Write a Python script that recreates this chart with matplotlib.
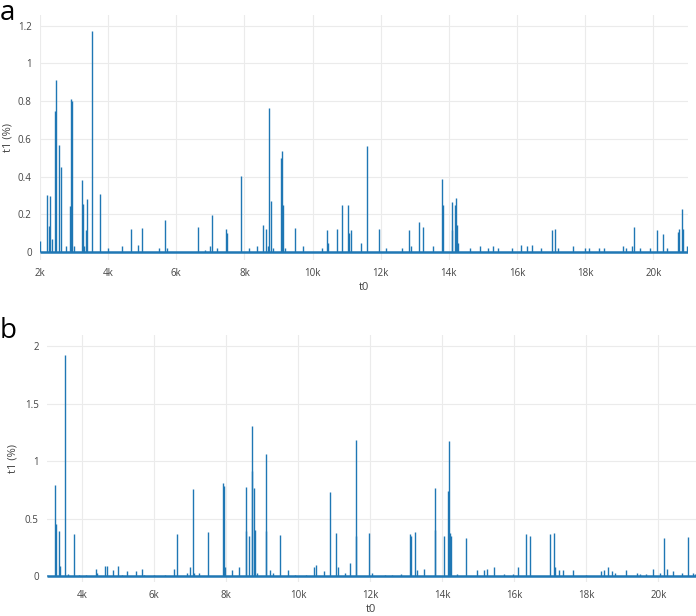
import matplotlib
matplotlib.use("Agg")
import matplotlib.pyplot as plt

# panel a spikes (t0, t1 %)
a_t0 = [2012, 2216, 2275, 2305, 2353, 2441, 2461, 2569, 2608, 2775, 2891, 2911, 2930,
        3000, 3245, 3264, 3300, 3362, 3380, 3518, 3773, 4000, 4400, 4683, 4870, 4986,
        5495, 5661, 5740, 6640, 6850, 7003, 7062, 7200, 7473, 7502, 7913, 8120, 8362,
        8539, 8647, 8680, 8715, 8783, 8850, 9076, 9096, 9125, 9200, 9478, 9730, 10264,
        10409, 10440, 10722, 10867, 11043, 11060, 11113, 11425, 11582, 11935, 12150,
        12610, 12835, 12900, 13110, 13245, 13520, 13803, 13830, 14079, 14100, 14185,
        14205, 14243, 14270, 14630, 14900, 15150, 15300, 15450, 15850, 16118, 16300,
        16450, 16700, 17024, 17112, 17200, 17650, 18000, 18100, 18400, 18550, 19100,
        19200, 19380, 19440, 19600, 19900, 20105, 20273, 20400, 20722, 20760, 20840,
        20870, 20980]
a_t1 = [0.06, 0.305, 0.138, 0.296, 0.07, 0.746, 0.91, 0.57, 0.45, 0.03, 0.245, 0.81, 0.80,
        0.03, 0.38, 0.254, 0.03, 0.116, 0.28, 1.17, 0.307, 0.02, 0.03, 0.12, 0.04, 0.129,
        0.02, 0.17, 0.02, 0.132, 0.01, 0.03, 0.196, 0.02, 0.123, 0.10, 0.405, 0.02, 0.03,
        0.141, 0.12, 0.03, 0.766, 0.272, 0.02, 0.50, 0.534, 0.252, 0.02, 0.129, 0.03, 0.02,
        0.116, 0.05, 0.123, 0.249, 0.247, 0.10, 0.116, 0.05, 0.56, 0.122, 0.02,
        0.02, 0.116, 0.03, 0.157, 0.133, 0.03, 0.388, 0.25, 0.263, 0.116, 0.252,
        0.285, 0.143, 0.05, 0.02, 0.03, 0.02, 0.03, 0.02, 0.02, 0.04, 0.03,
        0.04, 0.02, 0.116, 0.12, 0.02, 0.03, 0.02, 0.02, 0.02, 0.02, 0.03,
        0.02, 0.03, 0.133, 0.02, 0.02, 0.115, 0.096, 0.02, 0.104, 0.12, 0.231,
        0.12, 0.03]

# panel b spikes
b_t0 = [3030, 3242, 3270, 3353, 3380, 3519, 3600, 3769, 3900, 4100, 4380, 4420, 4630,
        4680, 4850, 4992, 5100, 5232, 5491, 5648, 5700, 6000, 6300, 6557, 6630, 6900,
        7000, 7066, 7100, 7250, 7483, 7908, 7935, 7960, 8150, 8361, 8537, 8556, 8622,
        8705, 8720, 8778, 8790, 8850, 9094, 9105, 9200, 9300, 9483, 9722, 9900, 10200,
        10436, 10500, 10700, 10872, 11038, 11100, 11300, 11427, 11594, 11610, 11955,
        12050, 12400, 12600, 12850, 13111, 13130, 13242, 13300, 13500, 13788, 13800,
        14056, 14170, 14185, 14200, 14240, 14400, 14650, 14950, 15150, 15250, 15444,
        15700, 15950, 16111, 16317, 16436, 16992, 17103, 17130, 17250, 17350, 17639,
        18000, 18400, 18500, 18595, 18700, 18800, 19094, 19400, 19500, 19650, 19861,
        20050, 20167, 20250, 20400, 20650, 20833, 20950, 21030]
b_t1 = [0.01, 0.793, 0.45, 0.395, 0.09, 1.92, 0.02, 0.363, 0.01, 0.01, 0.058, 0.03, 0.087,
        0.085, 0.05, 0.087, 0.01, 0.04, 0.04, 0.06, 0.01, 0.01, 0.01, 0.065, 0.366, 0.03,
        0.08, 0.758, 0.03, 0.03, 0.38, 0.807, 0.78, 0.08, 0.05, 0.08, 0.39, 0.778, 0.351,
        1.307, 0.91, 0.77, 0.40, 0.03, 1.063, 0.39, 0.05, 0.03, 0.357, 0.05, 0.01, 0.01,
        0.08, 0.10, 0.04, 0.734, 0.372, 0.08, 0.03, 0.11, 1.185, 0.35, 0.372,
        0.03, 0.01, 0.01, 0.02, 0.363, 0.35, 0.38, 0.05, 0.06, 0.764, 0.40,
        0.348, 0.74, 1.179, 0.375, 0.35, 0.02, 0.328, 0.05, 0.05, 0.06, 0.08,
        0.02, 0.02, 0.08, 0.366, 0.345, 0.366, 0.377, 0.08, 0.05, 0.05, 0.05,
        0.01, 0.04, 0.05, 0.08, 0.04, 0.03, 0.05, 0.03, 0.02, 0.02, 0.06,
        0.03, 0.328, 0.06, 0.04, 0.03, 0.337, 0.03, 0.02]

a_yticks = [0, 0.2, 0.4, 0.6, 0.8, 1, 1.2]
a_ylabels = ["0", "0.2", "0.4", "0.6", "0.8", "1", "1.2"]
a_xticks = [2000, 4000, 6000, 8000, 10000, 12000, 14000, 16000, 18000, 20000]
b_yticks = [0, 0.5, 1, 1.5, 2]
b_ylabels = ["0", "0.5", "1", "1.5", "2"]
b_xticks = [4000, 6000, 8000, 10000, 12000, 14000, 16000, 18000, 20000]

blue = "#1f77b4"
plt.rcParams["font.family"] = ["Open Sans", "DejaVu Sans"]

fig = plt.figure(figsize=(6.96, 6.16), dpi=100)
ax_a = fig.add_axes([40 / 696, 1 - 260 / 616, 648 / 696, 245 / 616])
ax_b = fig.add_axes([47 / 696, 1 - 582 / 616, 649 / 696, 247 / 616])


def draw(ax, t0, t1, xlim, ylim, xticks, yticks, ylabels, ylab_x):
    ax.vlines(t0, 0, t1, color=blue, lw=1.0)
    ax.plot([min(t0), xlim[1]], [0, 0], color=blue, lw=1.8, solid_capstyle="butt")
    ax.set_xlim(*xlim)
    ax.set_ylim(*ylim)
    ax.set_xticks(xticks)
    ax.set_xticklabels([f"{int(v / 1000)}k" for v in xticks])
    ax.set_yticks(yticks)
    ax.set_yticklabels(ylabels)
    ax.grid(True, color="#ebebeb", lw=0.8)
    ax.set_axisbelow(True)
    for s in ax.spines.values():
        s.set_visible(False)
    ax.tick_params(length=0, labelsize=7, colors="#444444", pad=6)
    ax.set_xlabel("t0", fontsize=8, color="#444444", labelpad=2)
    ax.set_ylabel("t1 (%)", fontsize=8, color="#444444")
    ax.yaxis.set_label_coords(ylab_x, 0.5)


draw(ax_a, a_t0, a_t1, (2000, 21017), (-0.042, 1.257), a_xticks, a_yticks, a_ylabels,
     -27 / 648)
draw(ax_b, b_t0, b_t1, (3019, 21047), (-0.052, 2.098), b_xticks, b_yticks, b_ylabels,
     -29 / 649)

fig.text(0.0, 1 - 20 / 616, "a", fontsize=20, color="black")
fig.text(0.0, 1 - 338 / 616, "b", fontsize=20, color="black")

fig.savefig("out.png", dpi=100)
